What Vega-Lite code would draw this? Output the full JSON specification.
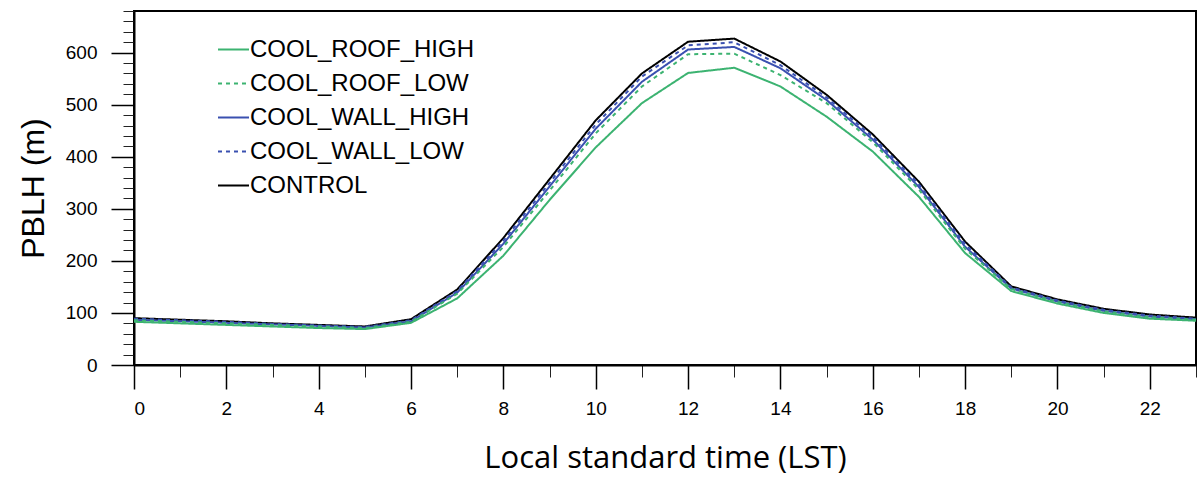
{
"$schema": "https://vega.github.io/schema/vega-lite/v6.json",
"width": 1062, "height": 354,
"autosize": {"type": "none"},
"padding": {"left": 134, "top": 11, "right": 4, "bottom": 117},
"background": "white",
"config": {"view": {"stroke": "black", "strokeWidth": 2}},
"datasets": {"pblh": [
{"h":0,"s":"CONTROL","v":90},{"h":0,"s":"COOL_WALL_LOW","v":89},{"h":0,"s":"COOL_WALL_HIGH","v":87},{"h":0,"s":"COOL_ROOF_LOW","v":86},{"h":0,"s":"COOL_ROOF_HIGH","v":83},
{"h":1,"s":"CONTROL","v":87},{"h":1,"s":"COOL_WALL_LOW","v":86},{"h":1,"s":"COOL_WALL_HIGH","v":84},{"h":1,"s":"COOL_ROOF_LOW","v":83},{"h":1,"s":"COOL_ROOF_HIGH","v":80},
{"h":2,"s":"CONTROL","v":84},{"h":2,"s":"COOL_WALL_LOW","v":83},{"h":2,"s":"COOL_WALL_HIGH","v":81},{"h":2,"s":"COOL_ROOF_LOW","v":80},{"h":2,"s":"COOL_ROOF_HIGH","v":77},
{"h":3,"s":"CONTROL","v":80},{"h":3,"s":"COOL_WALL_LOW","v":79},{"h":3,"s":"COOL_WALL_HIGH","v":78},{"h":3,"s":"COOL_ROOF_LOW","v":77},{"h":3,"s":"COOL_ROOF_HIGH","v":74},
{"h":4,"s":"CONTROL","v":77},{"h":4,"s":"COOL_WALL_LOW","v":76},{"h":4,"s":"COOL_WALL_HIGH","v":75},{"h":4,"s":"COOL_ROOF_LOW","v":74},{"h":4,"s":"COOL_ROOF_HIGH","v":71},
{"h":5,"s":"CONTROL","v":74},{"h":5,"s":"COOL_WALL_LOW","v":73},{"h":5,"s":"COOL_WALL_HIGH","v":72},{"h":5,"s":"COOL_ROOF_LOW","v":71},{"h":5,"s":"COOL_ROOF_HIGH","v":69},
{"h":6,"s":"CONTROL","v":88},{"h":6,"s":"COOL_WALL_LOW","v":86},{"h":6,"s":"COOL_WALL_HIGH","v":84},{"h":6,"s":"COOL_ROOF_LOW","v":83},{"h":6,"s":"COOL_ROOF_HIGH","v":81},
{"h":7,"s":"CONTROL","v":145},{"h":7,"s":"COOL_WALL_LOW","v":142},{"h":7,"s":"COOL_WALL_HIGH","v":139},{"h":7,"s":"COOL_ROOF_LOW","v":137},{"h":7,"s":"COOL_ROOF_HIGH","v":128},
{"h":8,"s":"CONTROL","v":244},{"h":8,"s":"COOL_WALL_LOW","v":239},{"h":8,"s":"COOL_WALL_HIGH","v":233},{"h":8,"s":"COOL_ROOF_LOW","v":227},{"h":8,"s":"COOL_ROOF_HIGH","v":210},
{"h":9,"s":"CONTROL","v":357},{"h":9,"s":"COOL_WALL_LOW","v":350},{"h":9,"s":"COOL_WALL_HIGH","v":343},{"h":9,"s":"COOL_ROOF_LOW","v":335},{"h":9,"s":"COOL_ROOF_HIGH","v":317},
{"h":10,"s":"CONTROL","v":470},{"h":10,"s":"COOL_WALL_LOW","v":462},{"h":10,"s":"COOL_WALL_HIGH","v":454},{"h":10,"s":"COOL_ROOF_LOW","v":445},{"h":10,"s":"COOL_ROOF_HIGH","v":418},
{"h":11,"s":"CONTROL","v":560},{"h":11,"s":"COOL_WALL_LOW","v":554},{"h":11,"s":"COOL_WALL_HIGH","v":544},{"h":11,"s":"COOL_ROOF_LOW","v":535},{"h":11,"s":"COOL_ROOF_HIGH","v":503},
{"h":12,"s":"CONTROL","v":621},{"h":12,"s":"COOL_WALL_LOW","v":614},{"h":12,"s":"COOL_WALL_HIGH","v":606},{"h":12,"s":"COOL_ROOF_LOW","v":597},{"h":12,"s":"COOL_ROOF_HIGH","v":561},
{"h":13,"s":"CONTROL","v":627},{"h":13,"s":"COOL_WALL_LOW","v":620},{"h":13,"s":"COOL_WALL_HIGH","v":611},{"h":13,"s":"COOL_ROOF_LOW","v":598},{"h":13,"s":"COOL_ROOF_HIGH","v":571},
{"h":14,"s":"CONTROL","v":583},{"h":14,"s":"COOL_WALL_LOW","v":576},{"h":14,"s":"COOL_WALL_HIGH","v":570},{"h":14,"s":"COOL_ROOF_LOW","v":557},{"h":14,"s":"COOL_ROOF_HIGH","v":535},
{"h":15,"s":"CONTROL","v":519},{"h":15,"s":"COOL_WALL_LOW","v":514},{"h":15,"s":"COOL_WALL_HIGH","v":509},{"h":15,"s":"COOL_ROOF_LOW","v":503},{"h":15,"s":"COOL_ROOF_HIGH","v":477},
{"h":16,"s":"CONTROL","v":443},{"h":16,"s":"COOL_WALL_LOW","v":438},{"h":16,"s":"COOL_WALL_HIGH","v":433},{"h":16,"s":"COOL_ROOF_LOW","v":428},{"h":16,"s":"COOL_ROOF_HIGH","v":410},
{"h":17,"s":"CONTROL","v":352},{"h":17,"s":"COOL_WALL_LOW","v":347},{"h":17,"s":"COOL_WALL_HIGH","v":342},{"h":17,"s":"COOL_ROOF_LOW","v":337},{"h":17,"s":"COOL_ROOF_HIGH","v":323},
{"h":18,"s":"CONTROL","v":237},{"h":18,"s":"COOL_WALL_LOW","v":232},{"h":18,"s":"COOL_WALL_HIGH","v":227},{"h":18,"s":"COOL_ROOF_LOW","v":223},{"h":18,"s":"COOL_ROOF_HIGH","v":215},
{"h":19,"s":"CONTROL","v":151},{"h":19,"s":"COOL_WALL_LOW","v":149},{"h":19,"s":"COOL_WALL_HIGH","v":147},{"h":19,"s":"COOL_ROOF_LOW","v":146},{"h":19,"s":"COOL_ROOF_HIGH","v":142},
{"h":20,"s":"CONTROL","v":126},{"h":20,"s":"COOL_WALL_LOW","v":124},{"h":20,"s":"COOL_WALL_HIGH","v":122},{"h":20,"s":"COOL_ROOF_LOW","v":121},{"h":20,"s":"COOL_ROOF_HIGH","v":118},
{"h":21,"s":"CONTROL","v":108},{"h":21,"s":"COOL_WALL_LOW","v":106},{"h":21,"s":"COOL_WALL_HIGH","v":104},{"h":21,"s":"COOL_ROOF_LOW","v":103},{"h":21,"s":"COOL_ROOF_HIGH","v":100},
{"h":22,"s":"CONTROL","v":97},{"h":22,"s":"COOL_WALL_LOW","v":95},{"h":22,"s":"COOL_WALL_HIGH","v":93},{"h":22,"s":"COOL_ROOF_LOW","v":92},{"h":22,"s":"COOL_ROOF_HIGH","v":89},
{"h":23,"s":"CONTROL","v":91},{"h":23,"s":"COOL_WALL_LOW","v":89},{"h":23,"s":"COOL_WALL_HIGH","v":88},{"h":23,"s":"COOL_ROOF_LOW","v":87},{"h":23,"s":"COOL_ROOF_HIGH","v":85}
]},
"data": {"name": "pblh"},
"layer": [
{
"mark": {"type": "line", "opacity": 0},
"encoding": {
"x": {"field": "h", "type": "quantitative", "scale": {"domain": [0, 23], "nice": false},
"axis": {"orient": "bottom", "values": [1,3,5,7,9,11,13,15,17,19,21,23], "labels": false, "title": null, "grid": false, "domain": false, "tickSize": 12, "tickWidth": 1, "tickColor": "#222"}},
"y": {"field": "v", "type": "quantitative", "scale": {"domain": [0, 680], "nice": false, "zero": true},
"axis": {"orient": "left", "values": [20,40,60,80,120,140,160,180,220,240,260,280,320,340,360,380,420,440,460,480,520,540,560,580,620,640,660,680], "labels": false, "title": null, "grid": false, "domain": false, "tickSize": 11, "tickWidth": 1, "tickColor": "#222"}},
"detail": {"field": "s"}
}
},
{
"mark": {"type": "line", "strokeWidth": 2},
"encoding": {
"x": {"field": "h", "type": "quantitative",
"axis": {"orient": "bottom", "values": [0,2,4,6,8,10,12,14,16,18,20,22], "grid": false, "domainColor": "black", "domainWidth": 2, "tickSize": 24, "tickWidth": 1.5, "tickColor": "black", "labelFont": "Liberation Sans", "labelFontSize": 19, "labelColor": "black", "labelPadding": 10,
"title": "Local standard time (LST)", "titleFont": "Open Sans", "titleFontSize": 31, "titleFontWeight": "normal", "titleColor": "black", "titlePadding": 25}},
"y": {"field": "v", "type": "quantitative",
"axis": {"orient": "left", "values": [0,100,200,300,400,500,600], "grid": false, "domainColor": "black", "domainWidth": 2, "tickSize": 23, "tickWidth": 1.5, "tickColor": "black", "labelFont": "Liberation Sans", "labelFontSize": 19, "labelColor": "black", "labelPadding": 14,
"title": "PBLH (m)", "titleFont": "Liberation Sans", "titleFontSize": 32, "titleFontWeight": "normal", "titleColor": "black", "titlePadding": 15}},
"color": {"field": "s", "type": "nominal",
"scale": {"domain": ["COOL_ROOF_HIGH", "COOL_ROOF_LOW", "COOL_WALL_HIGH", "COOL_WALL_LOW", "CONTROL"], "range": ["#3cb371", "#3cb371", "#3a50b0", "#3a50b0", "#000000"]},
"legend": {"title": null, "orient": "none", "legendX": 83, "legendY": 22, "padding": 0, "symbolType": "stroke", "symbolSize": 961, "symbolStrokeWidth": 2, "labelFont": "Liberation Sans", "labelFontSize": 24, "labelColor": "black", "labelOffset": 0, "labelLimit": 500, "rowPadding": 5}},
"strokeDash": {"field": "s", "type": "nominal",
"scale": {"domain": ["COOL_ROOF_HIGH", "COOL_ROOF_LOW", "COOL_WALL_HIGH", "COOL_WALL_LOW", "CONTROL"], "range": [[1, 0], [4, 4], [1, 0], [4, 4], [1, 0]]},
"legend": {"title": null, "orient": "none", "legendX": 83, "legendY": 22, "padding": 0, "symbolType": "stroke", "symbolSize": 961, "symbolStrokeWidth": 2, "labelFont": "Liberation Sans", "labelFontSize": 24, "labelColor": "black", "labelOffset": 0, "labelLimit": 500, "rowPadding": 5}}
}
}
],
"resolve": {"axis": {"x": "independent", "y": "independent"}}
}
